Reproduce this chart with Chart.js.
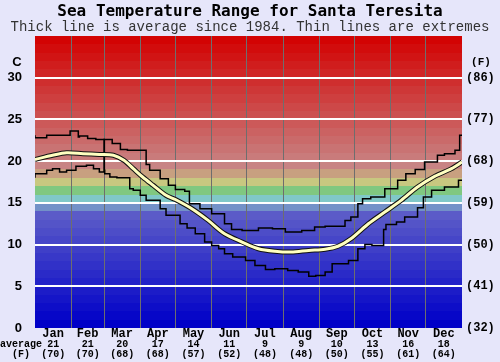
<!DOCTYPE html>
<html><head><meta charset="utf-8">
<script src="https://cdn.jsdelivr.net/npm/chart.js@4/dist/chart.umd.min.js"></script>
<style>html,body{margin:0;padding:0;background:#e6e6fa;overflow:hidden}#wrap{width:500px;height:362px}</style>
</head><body><div id="wrap"><canvas id="c" width="500" height="362"></canvas></div>
<script>
const monthNames = ["Jan","Feb","Mar","Apr","May","Jun","Jul","Aug","Sep","Oct","Nov","Dec"];
const monthStartDays = [0,31,59,90,120,151,181,212,243,273,304,334,365];
const monthAvgC = [21,21,20,17,14,11,9,9,10,13,16,18];
const monthAvgF = [70,70,68,68,57,52,48,48,50,55,61,64];
const leftTicksC = [0,5,10,15,20,25,30];
const rightTicksF = [32,41,50,59,68,77,86];

const maxDays = [0,10,17,30,32,37,38,45,52,58,66,73,79,95,98,107,114,120,128,132,141,151,162,168,177,191,203,214,228,239,248,265,270,276,280,287,299,310,317,325,333,344,350,359,363,365];
const maxVals = [23.1,22.8,23.1,23.1,23.6,23.6,22.9,23.0,22.7,22.6,22.6,22.1,21.4,21.3,19.6,18.9,17.9,17.1,16.6,16.4,14.9,14.3,13.7,12.5,11.8,11.7,12.0,11.9,11.5,11.7,12.1,12.2,12.9,13.3,14.9,15.5,15.7,16.7,17.7,18.5,19.0,19.9,20.7,20.9,21.3,23.1];

const avgDays = [0,15,27,41,55,67,76,84,92,101,112,120,134,148,162,177,191,205,219,234,248,259,270,285,299,313,327,342,356,365];
const avgVals = [20.2,20.7,21.0,20.9,20.8,20.7,20.1,19.1,18.1,17.1,15.9,15.4,14.3,12.9,11.3,10.3,9.5,9.2,9.1,9.3,9.45,9.8,10.7,12.5,13.9,15.3,16.9,18.2,19.1,19.9];

const minDays = [0,10,15,21,27,35,44,50,55,59,59.3,59.6,64,70,81,84,90,95,107,112,124,130,137,145,151,157,162,169,180,188,197,205,216,225,234,240,248,254,268,276,282,288,298,300,309,316,327,332,339,350,362,365];
const minVals = [18.0,18.5,18.9,19.1,18.7,18.9,19.4,19.5,19.1,18.7,22.6,18.9,18.5,18.1,18.0,16.7,16.5,15.9,15.3,14.3,13.5,12.5,12.0,11.3,10.3,9.9,9.5,8.9,8.5,8.1,7.5,7.0,7.1,6.9,6.7,6.2,6.3,6.7,7.7,8.1,9.5,10.0,9.9,11.8,12.4,12.7,13.3,14.4,15.7,16.5,16.9,17.7];

const pts = (d, v) => d.map((x, i) => ({x: x, y: v[i]}));

function bandColor(t) {
  if (t < 14) { const c = Math.round(t * 7); return `rgb(${c},${c},200)`; }
  if (t === 14) return 'rgb(115,145,200)';
  if (t === 15) return 'rgb(128,200,200)';
  if (t === 16) return 'rgb(128,200,128)';
  if (t === 17) return 'rgb(200,200,128)';
  if (t === 18) return 'rgb(200,160,128)';
  const gb = Math.max(0, Math.round(132 - (t - 19) * 8.6));
  const r = Math.round(200 + (t - 19) * 0.7);
  return `rgb(${r},${gb},${gb})`;
}

const bgPlugin = {
  id: 'bands',
  beforeDraw(chart) {
    const {ctx, chartArea: a, scales: {y}} = chart;
    ctx.save();
    for (let t = 0; t < 35; t++) {
      const y0 = y.getPixelForValue(t), y1 = y.getPixelForValue(t + 1);
      ctx.fillStyle = bandColor(t);
      ctx.fillRect(a.left, Math.round(y1), a.right - a.left, Math.round(y0) - Math.round(y1));
    }
    ctx.restore();
  }
};

const textPlugin = {
  id: 'texts',
  afterDraw(chart) {
    const {ctx, scales: {x}, chartArea: a} = chart;
    ctx.save();
    ctx.fillStyle = '#000';
    ctx.textAlign = 'center';
    ctx.textBaseline = 'middle';
    for (let i = 0; i < 12; i++) {
      const cx = x.getPixelForValue((monthStartDays[i] + monthStartDays[i + 1]) / 2);
      ctx.font = 'bold 12px "Liberation Mono"';
      ctx.fillText(monthNames[i], cx, a.bottom + 6);
      ctx.font = 'bold 10px "Liberation Mono"';
      ctx.fillText(String(monthAvgC[i]), cx, a.bottom + 16);
      ctx.fillText('(' + monthAvgF[i] + ')', cx, a.bottom + 26);
    }
    ctx.font = 'bold 10px "Liberation Mono"';
    ctx.fillText('average', 21, a.bottom + 16);
    ctx.fillText('(F)', 21, a.bottom + 26);
    ctx.font = 'bold 13px "Liberation Sans"';
    ctx.fillText('C', 17, 62);
    ctx.font = 'bold 11px "Liberation Mono"';
    ctx.fillText('(F)', 481, 62);
    ctx.restore();
  }
};

new Chart(document.getElementById('c'), {
  type: 'line',
  data: {
    datasets: [
      {data: pts(avgDays, avgVals), borderColor: '#ffffc0', borderWidth: 3, pointRadius: 0, tension: 0.3, order: 0},
      {data: pts(avgDays, avgVals), borderColor: '#111', borderWidth: 5, pointRadius: 0, tension: 0.3, order: 1},
      {data: pts(maxDays, maxVals), borderColor: '#000', borderWidth: 1.5, pointRadius: 0, stepped: 'after', order: 2},
      {data: pts(minDays, minVals), borderColor: '#000', borderWidth: 1.5, pointRadius: 0, stepped: 'after', order: 2}
    ]
  },
  options: {
    responsive: false, animation: false, devicePixelRatio: 1,
    layout: {padding: 0},
    plugins: {
      legend: {display: false}, tooltip: {enabled: false},
      title: {display: true, text: 'Sea Temperature Range for Santa Teresita', color: '#000',
        font: {family: '"DejaVu Sans Mono"', size: 16, weight: 'bold', lineHeight: 1}, padding: {top: 4, bottom: 0}},
      subtitle: {display: true, text: 'Thick line is average since 1984. Thin lines are extremes', color: '#333',
        font: {family: '"Liberation Mono"', size: 14, weight: 'normal', lineHeight: 1}, padding: {top: 0, bottom: 2}}
    },
    scales: {
      x: {
        type: 'linear', min: 0, max: 365, position: 'bottom',
        afterBuildTicks: s => { s.ticks = monthStartDays.map(v => ({value: v})); },
        afterFit: s => { s.height = 34; },
        ticks: {display: false},
        grid: {color: c => (c.tick && (c.tick.value === 0 || c.tick.value === 365)) ? 'rgba(0,0,0,0)' : '#6e6e6e', lineWidth: 1, drawTicks: false},
        border: {display: false}
      },
      y: {
        min: 0, max: 35, position: 'left',
        afterBuildTicks: s => { s.ticks = leftTicksC.concat([35]).map(v => ({value: v})); },
        afterFit: s => { s.width = 35; },
        ticks: {callback: v => v === 35 ? '' : String(v), color: '#000', padding: 13,
          font: {family: '"Liberation Sans"', size: 13, weight: 'bold'}},
        grid: {color: c => (c.tick && (c.tick.value === 0 || c.tick.value === 35)) ? 'rgba(0,0,0,0)' : '#ffffff', lineWidth: 2, drawTicks: false},
        border: {display: false}
      },
      y2: {
        min: 0, max: 35, position: 'right',
        afterBuildTicks: s => { s.ticks = leftTicksC.concat([35]).map(v => ({value: v})); },
        afterFit: s => { s.width = 38; },
        ticks: {callback: (v) => { const i = leftTicksC.indexOf(v); return i < 0 ? '' : '(' + rightTicksF[i] + ')'; },
          color: '#000', padding: 4, font: {family: '"Liberation Mono"', size: 12, weight: 'bold'}},
        grid: {display: false, drawTicks: false},
        border: {display: false}
      }
    }
  },
  plugins: [bgPlugin, textPlugin]
});
</script></body></html>
